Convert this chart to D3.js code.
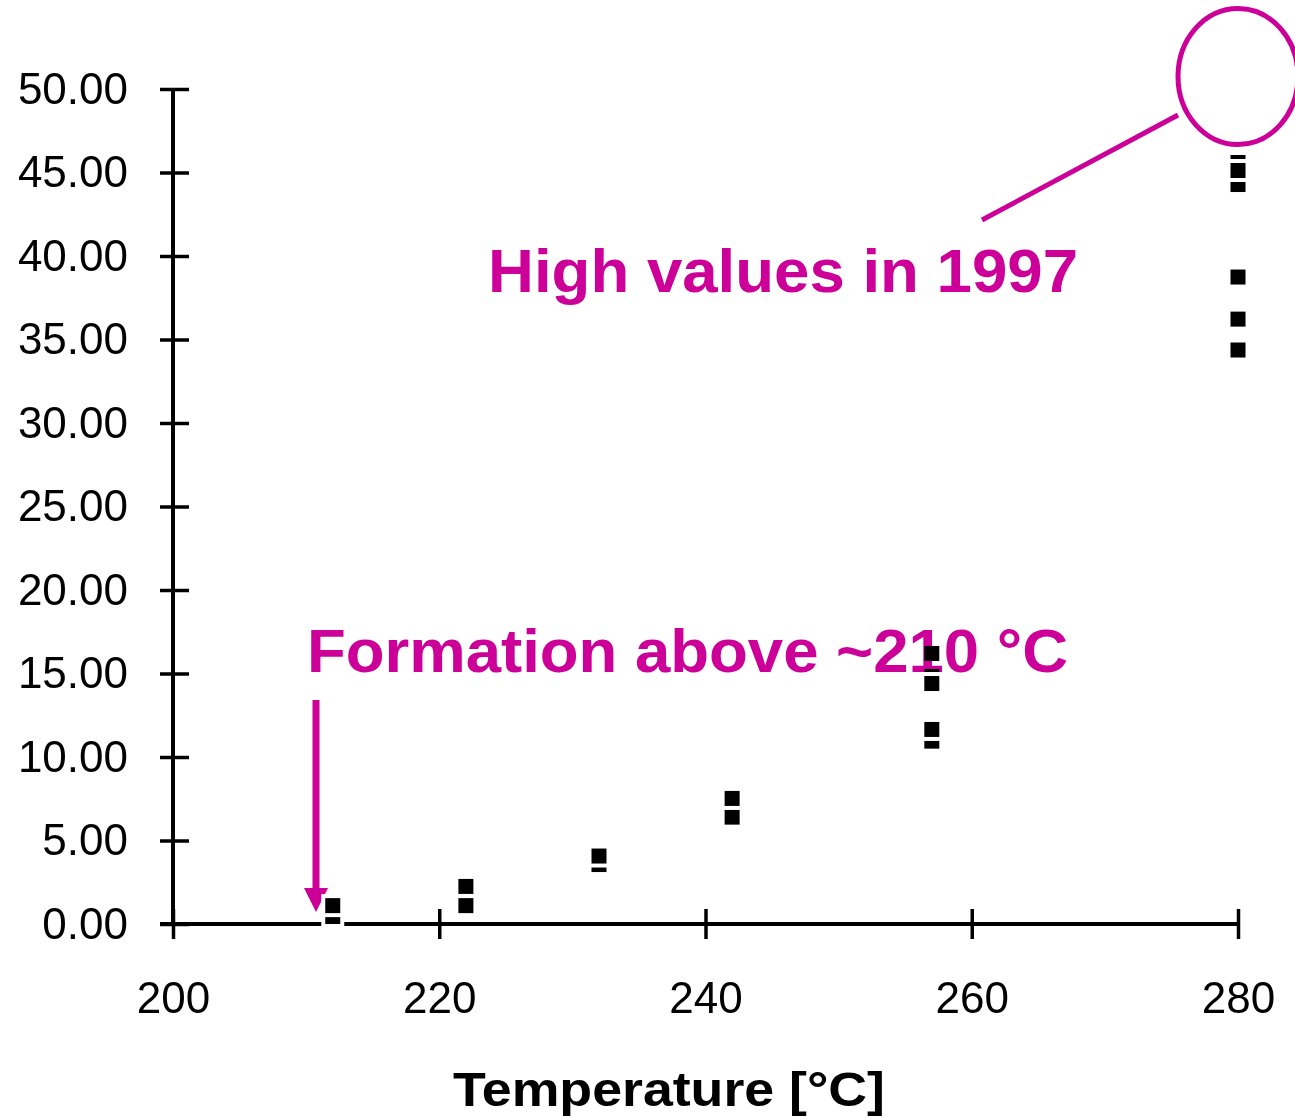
<!DOCTYPE html>
<html>
<head>
<meta charset="utf-8">
<script src="https://cdn.jsdelivr.net/npm/d3@7"></script>
<style>
  html, body { margin: 0; padding: 0; background: #ffffff; }
  svg { display: block; }
  text { font-family: "Liberation Sans", Arial, sans-serif; }
</style>
</head>
<body>
<script>
// Measurements: temperature (°C) and measured value, listed in drawing order
const temperatures = [212, 212, 222, 222, 232, 232, 242, 242,
                      257, 257, 257, 257, 257,
                      280, 280, 280, 280, 280, 280];
const values = [0.45, 1.10, 1.10, 2.25, 3.56, 4.07, 6.40, 7.52,
                16.20, 14.82, 14.40, 10.95, 11.65,
                45.60, 44.28, 45.12, 38.74, 36.22, 34.37];

const xTicks = [200, 220, 240, 260, 280];
const yTicks = [0, 5, 10, 15, 20, 25, 30, 35, 40, 45, 50];
const yTickLabels = ["0.00", "5.00", "10.00", "15.00", "20.00", "25.00",
                     "30.00", "35.00", "40.00", "45.00", "50.00"];
const xTitle = "Temperature [°C]";
const noteHigh = "High values in 1997";
const noteFormation = "Formation above ~210 °C";

const W = 1295, H = 1118;
const magenta = "#cc0099";

const svg = d3.select("body").append("svg")
  .attr("width", W).attr("height", H);

const x = d3.scaleLinear().domain([200, 280]).range([173, 1238]);
const y = d3.scaleLinear().domain([0, 50]).range([924, 89]);

// Y axis: ticks crossing the axis line
const yAxis = svg.append("g")
  .attr("transform", `translate(${x(200)},0)`)
  .call(d3.axisLeft(y).tickValues(yTicks).tickSize(14)
        .tickFormat((d, i) => yTickLabels[i]));
yAxis.select(".domain").remove();
yAxis.selectAll(".tick line")
  .attr("x1", 16).attr("x2", -13)
  .attr("stroke", "#000").attr("stroke-width", 3.5);
yAxis.selectAll(".tick text")
  .attr("x", -45).attr("dy", null).attr("y", 14)
  .attr("font-size", 44).attr("fill", "#000")
  .attr("font-family", "'Liberation Sans', Arial, sans-serif");
svg.append("line")
  .attr("x1", x(200)).attr("x2", x(200))
  .attr("y1", y(50)).attr("y2", y(0))
  .attr("stroke", "#000").attr("stroke-width", 4);

// X axis
const xAxis = svg.append("g")
  .attr("transform", `translate(0,${y(0)})`)
  .call(d3.axisBottom(x).tickValues(xTicks).tickSize(14).tickFormat(d3.format("d")));
xAxis.select(".domain").remove();
xAxis.selectAll(".tick line")
  .attr("y1", -15).attr("y2", 15)
  .attr("stroke", "#000").attr("stroke-width", 3.5);
xAxis.selectAll(".tick text")
  .attr("y", 89).attr("dy", null)
  .attr("font-size", 44).attr("fill", "#000")
  .attr("font-family", "'Liberation Sans', Arial, sans-serif");
svg.append("line")
  .attr("x1", x(200) - 13).attr("x2", x(280))
  .attr("y1", y(0)).attr("y2", y(0))
  .attr("stroke", "#000").attr("stroke-width", 4);

// Axis title
svg.append("text")
  .attr("x", 669).attr("y", 1106)
  .attr("text-anchor", "middle")
  .attr("font-size", 49).attr("font-weight", "bold")
  .attr("textLength", 432).attr("lengthAdjust", "spacingAndGlyphs")
  .text(xTitle);

// Pointer line and ring around the top right
svg.append("line")
  .attr("x1", 982).attr("y1", 220).attr("x2", 1178).attr("y2", 115)
  .attr("stroke", magenta).attr("stroke-width", 5);
svg.append("ellipse")
  .attr("cx", 1238).attr("cy", 76.5).attr("rx", 60).attr("ry", 68)
  .attr("fill", "none").attr("stroke", magenta).attr("stroke-width", 5);

// Downward arrow toward the x axis
svg.append("line")
  .attr("x1", 316).attr("x2", 316).attr("y1", 700).attr("y2", 890)
  .attr("stroke", magenta).attr("stroke-width", 7);
svg.append("path")
  .attr("d", "M304,888 L328,888 L316,912 Z")
  .attr("fill", magenta);

// Square markers with a white halo
const pts = temperatures.map((t, i) => ({ t, v: values[i] }));
const size = 15, halo = 4;
const mk = svg.append("g").selectAll("g").data(pts).join("g")
  .attr("transform", d => `translate(${x(d.t)},${y(d.v)})`);
mk.append("rect")
  .attr("x", -size / 2 - halo).attr("y", -size / 2 - halo)
  .attr("width", size + 2 * halo).attr("height", size + 2 * halo)
  .attr("fill", "#fff");
mk.append("rect")
  .attr("x", -size / 2).attr("y", -size / 2)
  .attr("width", size).attr("height", size)
  .attr("fill", "#000");

// Annotations, multiplied so the black markers stay visible on top
svg.append("text")
  .attr("x", 488).attr("y", 292)
  .attr("font-size", 62).attr("font-weight", "bold").attr("fill", magenta)
  .attr("textLength", 590).attr("lengthAdjust", "spacingAndGlyphs")
  .style("mix-blend-mode", "multiply")
  .text(noteHigh);

svg.append("text")
  .attr("x", 307).attr("y", 672)
  .attr("font-size", 62).attr("font-weight", "bold").attr("fill", magenta)
  .attr("textLength", 761).attr("lengthAdjust", "spacingAndGlyphs")
  .style("mix-blend-mode", "multiply")
  .text(noteFormation);
</script>
</body>
</html>
